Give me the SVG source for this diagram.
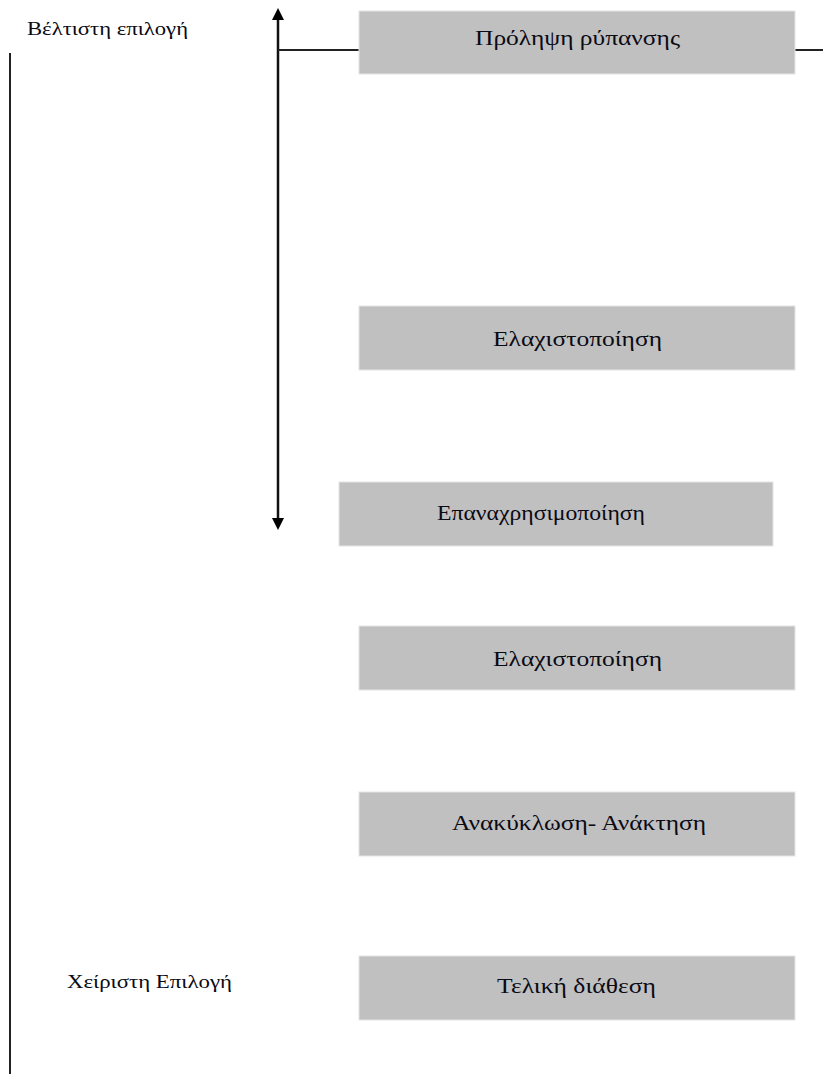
<svg xmlns="http://www.w3.org/2000/svg" width="823" height="1074" viewBox="0 0 823 1074">
<style>
.box{fill:#c0c0c0;stroke:#e4e4e4;stroke-width:1}
.lbl{font-family:"Liberation Serif","Times New Roman",serif;font-size:21px;fill:#0a0a14}
.side{font-family:"Liberation Serif","Times New Roman",serif;font-size:18px;fill:#0a0a14}
.ln{stroke:#222;stroke-width:2;fill:none}
.arr{stroke:#111;stroke-width:2.5;fill:none}
</style>
<defs>
<marker id="ah" viewBox="0 0 12 12" refX="6" refY="6" markerWidth="12" markerHeight="12" markerUnits="userSpaceOnUse" orient="auto-start-reverse">
<path d="M0,0 L12,6 L0,12 Z" fill="#000"/>
</marker>
</defs>
<rect width="823" height="1074" fill="#fff"/>
<g id="connectors">
<line class="ln" x1="10" y1="53" x2="10" y2="1074"/>
<line class="arr" x1="278" y1="14" x2="278" y2="524" marker-start="url(#ah)" marker-end="url(#ah)"/>
<line class="ln" x1="278" y1="50" x2="359" y2="50"/>
<line class="ln" x1="795" y1="50" x2="823" y2="50"/>
</g>
<g id="label-best"><text class="side" x="27" y="35" textLength="161" lengthAdjust="spacingAndGlyphs">Βέλτιστη επιλογή</text></g>
<g id="label-worst"><text class="side" x="67" y="988" textLength="165" lengthAdjust="spacingAndGlyphs">Χείριστη Επιλογή</text></g>
<g id="n1"><rect class="box" x="359" y="11" width="436" height="63"/><text class="lbl" x="475" y="45" textLength="205" lengthAdjust="spacingAndGlyphs">Πρόληψη ρύπανσης</text></g>
<g id="n2"><rect class="box" x="359" y="306" width="436" height="64"/><text class="lbl" x="493" y="346" textLength="169" lengthAdjust="spacingAndGlyphs">Ελαχιστοποίηση</text></g>
<g id="n3"><rect class="box" x="339" y="482" width="434" height="64"/><text class="lbl" x="437" y="520" textLength="208" lengthAdjust="spacingAndGlyphs">Επαναχρησιμοποίηση</text></g>
<g id="n4"><rect class="box" x="359" y="626" width="436" height="64"/><text class="lbl" x="493" y="666" textLength="169" lengthAdjust="spacingAndGlyphs">Ελαχιστοποίηση</text></g>
<g id="n5"><rect class="box" x="359" y="792" width="436" height="64"/><text class="lbl" x="452" y="830" textLength="254" lengthAdjust="spacingAndGlyphs">Ανακύκλωση- Ανάκτηση</text></g>
<g id="n6"><rect class="box" x="359" y="956" width="436" height="64"/><text class="lbl" x="497" y="993" textLength="159" lengthAdjust="spacingAndGlyphs">Τελική διάθεση</text></g>
</svg>
